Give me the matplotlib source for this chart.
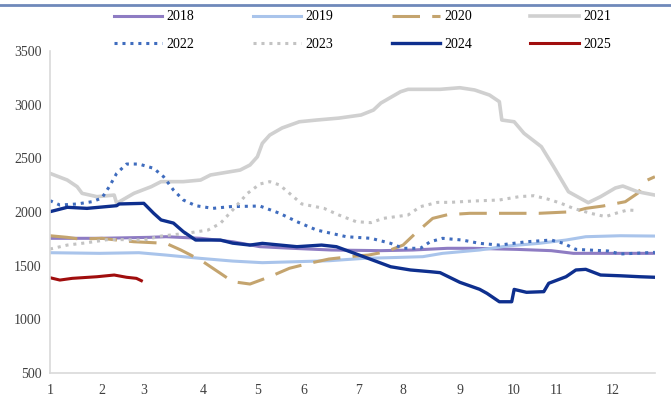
import matplotlib
matplotlib.use("Agg")
import matplotlib.pyplot as plt
from matplotlib.lines import Line2D

plt.rcParams["font.family"] = ["Liberation Serif", "DejaVu Serif"]

# x is the trading-day index within the year, month labels sit at month starts
month_starts = [0, 21, 38, 62, 84, 103, 125, 143, 166, 188, 205, 228]
month_labels = ["1", "2", "3", "4", "5", "6", "7", "8", "9", "10", "11", "12"]
last_day = 245

x_2018 = [0, 20, 40, 47, 61, 74, 85, 98, 114, 134, 147, 161, 171, 189, 203, 212, 226, 245]
y_2018 = [1755, 1755, 1764, 1770, 1755, 1723, 1677, 1662, 1646, 1640, 1646, 1662, 1662,
          1652, 1640, 1615, 1615, 1615]

x_2019 = [0, 20, 36, 47, 61, 74, 86, 113, 127, 141, 151, 159, 174, 185, 198, 209, 217, 231, 245]
y_2019 = [1621, 1615, 1621, 1599, 1568, 1543, 1528, 1546, 1568, 1577, 1584, 1615, 1646,
          1683, 1708, 1739, 1770, 1779, 1776]

x_2020 = [0, 7, 12, 21, 27, 34, 42, 47, 53, 57, 62, 69, 74, 81, 89, 97, 105, 113, 124, 129,
          136, 143, 148, 155, 161, 170, 185, 198, 212, 217, 224, 233, 238, 242, 245]
y_2020 = [1779, 1764, 1748, 1755, 1739, 1723, 1714, 1708, 1646, 1599, 1537, 1429, 1351, 1329,
          1397, 1476, 1522, 1562, 1590, 1599, 1630, 1692, 1801, 1941, 1975, 1988, 1988, 1988,
          2003, 2034, 2056, 2096, 2174, 2298, 2329]

x_2021 = [0, 7, 11, 13, 19, 26, 27, 34, 41, 45, 54, 61, 65, 77, 81, 84, 86, 89, 94, 101, 108,
          117, 126, 131, 134, 142, 145, 158, 166, 172, 178, 182, 183, 188, 192, 199, 204, 210,
          218, 223, 229, 232, 238, 245]
y_2021 = [2360, 2298, 2236, 2174, 2143, 2158, 2081, 2174, 2236, 2283, 2283, 2298, 2345, 2391,
          2438, 2515, 2640, 2717, 2783, 2841, 2857, 2875, 2904, 2950, 3015, 3121, 3143, 3143,
          3158, 3137, 3090, 3028, 2857, 2841, 2733, 2609, 2422, 2189, 2087, 2143, 2224, 2242,
          2189, 2158]

x_2022 = [0, 4, 11, 17, 21, 24, 27, 31, 36, 42, 46, 50, 54, 59, 66, 73, 85, 93, 100, 108, 120,
          130, 138, 143, 150, 154, 159, 167, 174, 182, 193, 203, 208, 213, 226, 231, 245]
y_2022 = [2106, 2065, 2075, 2096, 2130, 2236, 2360, 2447, 2447, 2407, 2329, 2205, 2112, 2059,
          2034, 2050, 2056, 1988, 1910, 1832, 1770, 1755, 1708, 1662, 1662, 1723, 1755, 1739,
          1708, 1692, 1723, 1739, 1708, 1652, 1637, 1609, 1624]

x_2023 = [0, 7, 15, 24, 38, 45, 55, 64, 69, 74, 80, 85, 89, 93, 97, 102, 111, 117, 124, 130,
          135, 145, 150, 157, 162, 171, 182, 190, 196, 202, 207, 212, 219, 225, 230, 234, 238]
y_2023 = [1655, 1692, 1714, 1745, 1739, 1776, 1801, 1832, 1894, 2019, 2174, 2261, 2283, 2252,
          2174, 2075, 2034, 1972, 1910, 1901, 1941, 1972, 2050, 2090, 2090, 2102, 2112, 2143,
          2152, 2118, 2081, 2034, 1988, 1957, 1994, 2019, 2013]

x_2024 = [0, 7, 15, 27, 28, 38, 42, 45, 50, 54, 59, 65, 69, 74, 81, 86, 100, 110, 116, 127,
          138, 146, 154, 158, 166, 174, 177, 182, 187, 188, 193, 200, 202, 209, 213, 217, 223,
          231, 239, 245]
y_2024 = [2003, 2044, 2034, 2059, 2075, 2081, 1988, 1926, 1897, 1817, 1739, 1739, 1739, 1710,
          1692, 1708, 1677, 1692, 1677, 1584, 1490, 1460, 1444, 1435, 1345, 1280, 1242, 1164,
          1164, 1279, 1252, 1258, 1336, 1397, 1460, 1466, 1413, 1406, 1397, 1392]

x_2025 = [0, 4, 9, 19, 26, 31, 35, 37]
y_2025 = [1388, 1366, 1382, 1397, 1413, 1392, 1382, 1360]

dots = (0, (1, 1.6))
series = [
    ("2018", x_2018, y_2018, "#8E7CC3", "-", 2.2),
    ("2019", x_2019, y_2019, "#A9C4EB", "-", 2.2),
    ("2020", x_2020, y_2020, "#C4A46E", (0, (9, 4)), 2.2),
    ("2021", x_2021, y_2021, "#D0D0D0", "-", 2.6),
    ("2022", x_2022, y_2022, "#3F6CBE", dots, 2.2),
    ("2023", x_2023, y_2023, "#C3C3C3", dots, 2.2),
    ("2024", x_2024, y_2024, "#0E2F8E", "-", 2.4),
    ("2025", x_2025, y_2025, "#A00D0D", "-", 2.2),
]

fig = plt.figure(figsize=(6.71, 4.03), dpi=100)
ax = fig.add_axes([0.0745, 0.0744, 0.9015, 0.799])

handles = {}
for name, xs, ys, color, ls, lw in series:
    line, = ax.plot(xs, ys, color=color, linestyle=ls, linewidth=lw, label=name)
    handles[name] = line

ax.set_xlim(0, last_day)
ax.set_ylim(500, 3500)
ax.set_yticks([500, 1000, 1500, 2000, 2500, 3000, 3500])
ax.set_xticks(month_starts)
ax.set_xticklabels(month_labels)
ax.tick_params(axis="both", length=0, labelsize=10, colors="#404040")
ax.tick_params(axis="y", pad=6)
ax.tick_params(axis="x", pad=8)

for side in ["top", "right"]:
    ax.spines[side].set_visible(False)
for side in ["left", "bottom"]:
    ax.spines[side].set_color("#D9D9D9")
    ax.spines[side].set_linewidth(1.2)

# legend fills column-wise, so interleave the two rows
order = ["2018", "2022", "2019", "2023", "2020", "2024", "2021", "2025"]
fig.legend([handles[k] for k in order], order, loc="upper center", ncol=4,
           bbox_to_anchor=(0.54, 1.005), frameon=False, fontsize=10,
           handlelength=3.5, columnspacing=4.2, labelspacing=1.05, handletextpad=0.3)

# thin rule across the top
fig.add_artist(Line2D([0, 1], [0.988, 0.988], transform=fig.transFigure,
                      color="#6F89BA", linewidth=2))

fig.savefig("out.png", dpi=100)
